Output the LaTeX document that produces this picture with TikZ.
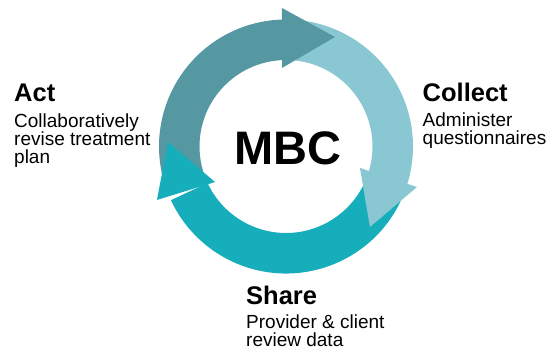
\documentclass[tikz,border=0pt]{standalone}
\usepackage{fontspec}
\setmainfont{Liberation Sans}
\usetikzlibrary{calc}
\definecolor{actcol}{HTML}{5698A1}
\definecolor{collectcol}{HTML}{89C8D2}
\definecolor{sharecol}{HTML}{17AEBC}
\begin{document}
\begin{tikzpicture}[x=1pt,y=1pt,
  title/.style={anchor=base west, inner sep=0pt, font=\fontsize{25.5}{28}\selectfont\bfseries},
  desc/.style={anchor=base west, inner sep=0pt, font=\fontsize{19}{21}\selectfont},
]
\useasboundingbox (0,0) rectangle (552,350);
\coordinate (c) at (286,203.5);
\def\rin{86.5}
\def\rout{127}

% ring bodies (each starts under the previous arrow's head)
\fill[actcol] ([shift={(203:\rout)}]c) arc[start angle=203, end angle=91, radius=\rout]
  -- ([shift={(91:\rin)}]c) arc[start angle=91, end angle=203, radius=\rin] -- cycle;
\fill[collectcol] ([shift={(90:\rout)}]c) arc[start angle=90, end angle=-18, radius=\rout]
  -- ([shift={(-18:\rin)}]c) arc[start angle=-18, end angle=90, radius=\rin] -- cycle;
\fill[sharecol] ([shift={(-20:\rout)}]c) arc[start angle=-20, end angle=-155, radius=\rout]
  -- ([shift={(-155:\rin)}]c) arc[start angle=-155, end angle=-20, radius=\rin] -- cycle;

% arrow heads
\fill[actcol] ([shift={(92.9:78.6)}]c) -- ([shift={(91.7:138.6)}]c) -- ([shift={(65.9:120)}]c) -- cycle;
\fill[collectcol] ([shift={(-16.2:77)}]c) -- ([shift={(-17.2:137.1)}]c) -- ([shift={(-43.8:116.3)}]c) -- cycle;
\fill[sharecol] ([shift={(206.6:79.4)}]c) -- ([shift={(202.5:139.7)}]c) -- ([shift={(177.8:118.1)}]c) -- cycle;

% centre label
\node[anchor=base, inner sep=0pt, font=\fontsize{47}{50}\selectfont\bfseries] (mbc) at (288,185) {MBC};

% Act
\node[title] (act) at (14,248.3) {Act};
\node[desc] (act1) at (14,222.7) {Collaboratively};
\node[desc] (act2) at (14,204.5) {revise treatment};
\node[desc] (act3) at (14,186.5) {plan};

% Collect
\node[title] (collect) at (422.5,248.3) {Collect};
\node[desc] (collect1) at (422.5,223.3) {Administer};
\node[desc] (collect2) at (422.5,205.5) {questionnaires};

% Share
\node[title] (share) at (246,45.5) {Share};
\node[desc] (share1) at (246,21) {Provider \& client};
\node[desc] (share2) at (246,3.5) {review data};
\end{tikzpicture}
\end{document}
